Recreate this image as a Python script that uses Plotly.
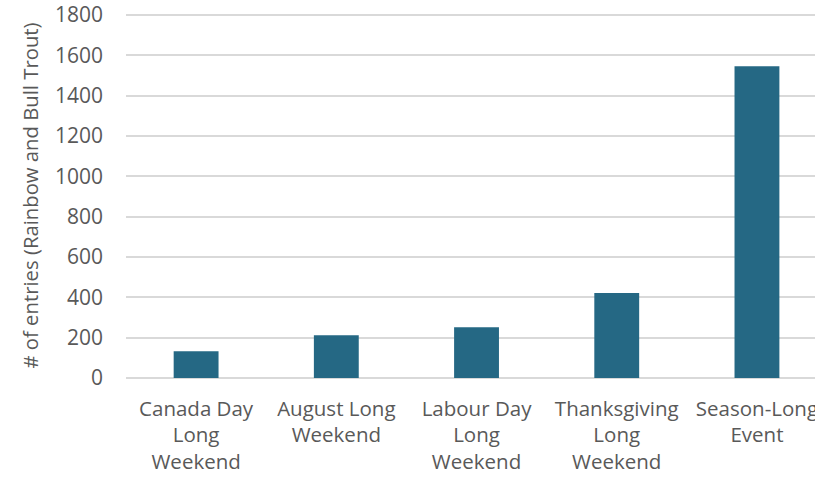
import plotly.graph_objects as go

categories = ["Canada Day<br>Long<br>Weekend", "August Long<br>Weekend",
              "Labour Day<br>Long<br>Weekend", "Thanksgiving<br>Long<br>Weekend",
              "Season-Long<br>Event"]
entries = [133, 212, 252, 421, 1546]
y_ticks = [0, 200, 400, 600, 800, 1000, 1200, 1400, 1600, 1800]

fig = go.Figure(go.Bar(x=list(range(len(categories))), y=entries,
                       marker=dict(color="#256884", line=dict(width=0))))

fig.update_layout(width=815, height=479,
                  margin=dict(l=126, r=0, t=13, b=101, autoexpand=False),
                  paper_bgcolor="white", plot_bgcolor="white",
                  bargap=0.68, showlegend=False,
                  font=dict(family="Open Sans", size=21, color="#595959"))
fig.update_xaxes(tickmode="array", tickvals=list(range(len(categories))),
                 ticktext=categories, range=[-0.5, 4.414],
                 showgrid=False, zeroline=False, showline=False,
                 ticks="", ticklabelstandoff=16, automargin=False,
                 ticklabeloverflow="allow", tickfont=dict(size=20.5))
fig.update_yaxes(range=[0, 1810], tickvals=y_ticks, showgrid=True,
                 gridcolor="#d9d9d9", gridwidth=1.5, zeroline=True,
                 zerolinecolor="#d9d9d9", zerolinewidth=1.5,
                 ticks="", ticklabelstandoff=22, automargin=False,
                 ticklabeloverflow="allow", tickfont=dict(size=21),
                 title=dict(text="# of entries (Rainbow and Bull Trout)",
                            standoff=10, font=dict(size=20.3)))

# drop the page's default body margin so the chart sits at the window's corner
fig.write_html("out.html", config={"displayModeBar": False},
               post_script="document.body.style.margin='0';"
                           "document.body.style.overflow='hidden';")
